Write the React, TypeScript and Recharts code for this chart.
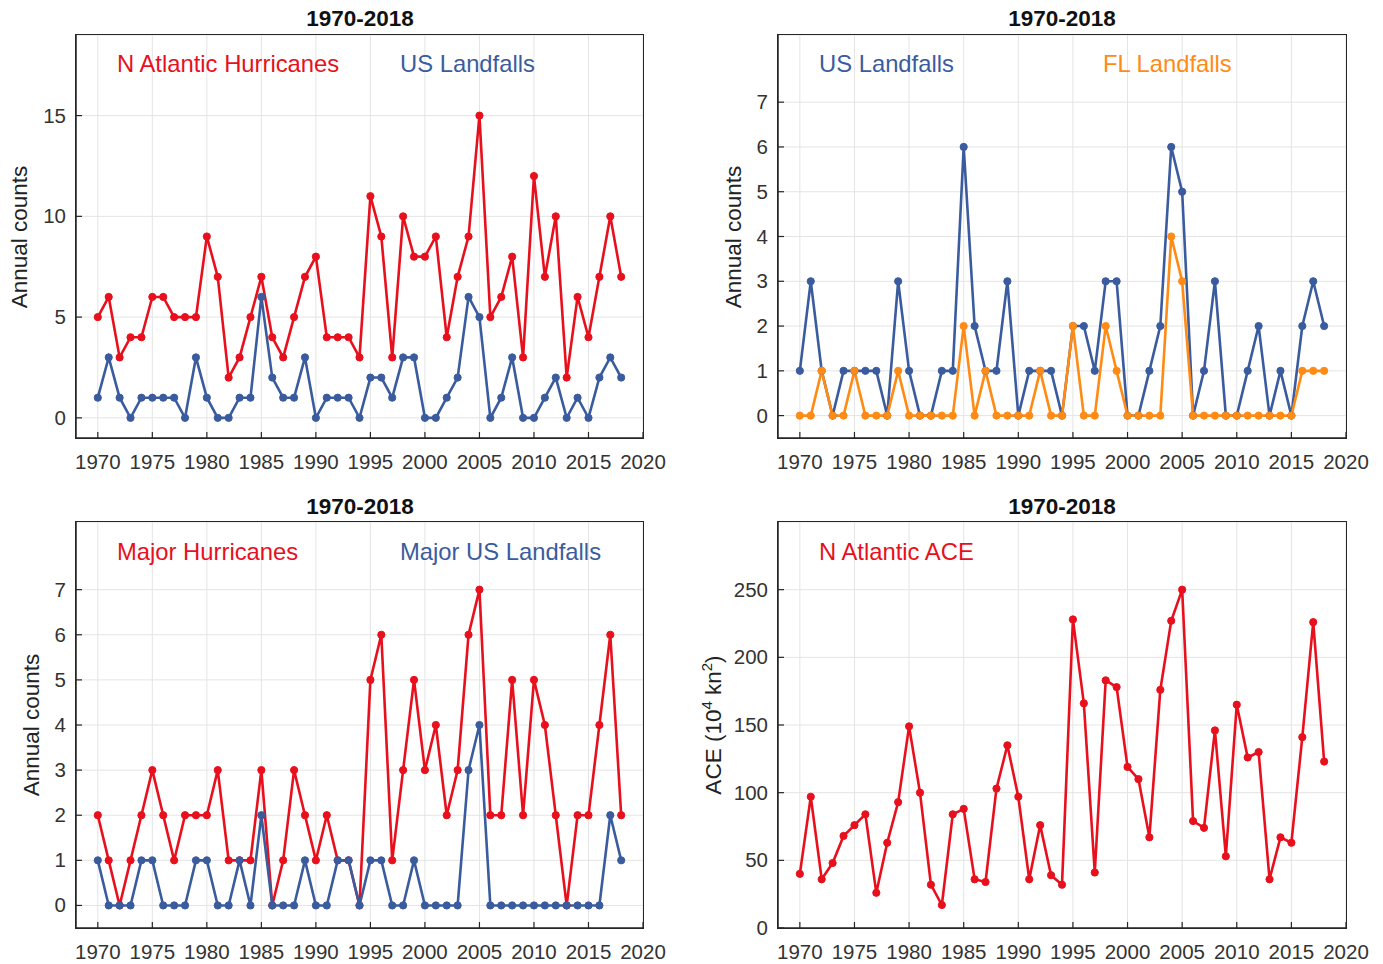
import React from "react";
import {
  LineChart,
  Line,
  XAxis,
  YAxis,
  CartesianGrid,
} from "recharts";

const FONT = "'Liberation Sans', Arial, Helvetica, sans-serif";
const RED = "#e8101c";
const BLUE = "#3a5c9e";
const ORANGE = "#ff8a14";
const AXIS = "#262626";

const years = [
  1970, 1971, 1972, 1973, 1974, 1975, 1976, 1977, 1978, 1979,
  1980, 1981, 1982, 1983, 1984, 1985, 1986, 1987, 1988, 1989,
  1990, 1991, 1992, 1993, 1994, 1995, 1996, 1997, 1998, 1999,
  2000, 2001, 2002, 2003, 2004, 2005, 2006, 2007, 2008, 2009,
  2010, 2011, 2012, 2013, 2014, 2015, 2016, 2017, 2018,
];

const hurricanes = [
  5, 6, 3, 4, 4, 6, 6, 5, 5, 5,
  9, 7, 2, 3, 5, 7, 4, 3, 5, 7,
  8, 4, 4, 4, 3, 11, 9, 3, 10, 8,
  8, 9, 4, 7, 9, 15, 5, 6, 8, 3,
  12, 7, 10, 2, 6, 4, 7, 10, 7,
];

const usLandfalls = [
  1, 3, 1, 0, 1, 1, 1, 1, 0, 3,
  1, 0, 0, 1, 1, 6, 2, 1, 1, 3,
  0, 1, 1, 1, 0, 2, 2, 1, 3, 3,
  0, 0, 1, 2, 6, 5, 0, 1, 3, 0,
  0, 1, 2, 0, 1, 0, 2, 3, 2,
];

const flLandfalls = [
  0, 0, 1, 0, 0, 1, 0, 0, 0, 1,
  0, 0, 0, 0, 0, 2, 0, 1, 0, 0,
  0, 0, 1, 0, 0, 2, 0, 0, 2, 1,
  0, 0, 0, 0, 4, 3, 0, 0, 0, 0,
  0, 0, 0, 0, 0, 0, 1, 1, 1,
];

const majorHurricanes = [
  2, 1, 0, 1, 2, 3, 2, 1, 2, 2,
  2, 3, 1, 1, 1, 3, 0, 1, 3, 2,
  1, 2, 1, 1, 0, 5, 6, 1, 3, 5,
  3, 4, 2, 3, 6, 7, 2, 2, 5, 2,
  5, 4, 2, 0, 2, 2, 4, 6, 2,
];

const majorUsLandfalls = [
  1, 0, 0, 0, 1, 1, 0, 0, 0, 1,
  1, 0, 0, 1, 0, 2, 0, 0, 0, 1,
  0, 0, 1, 1, 0, 1, 1, 0, 0, 1,
  0, 0, 0, 0, 3, 4, 0, 0, 0, 0,
  0, 0, 0, 0, 0, 0, 0, 2, 1,
];

const ace = [
  40, 97, 36, 48, 68, 76, 84, 26, 63, 93,
  149, 100, 32, 17, 84, 88, 36, 34, 103, 135,
  97, 36, 76, 39, 32, 228, 166, 41, 183, 178,
  119, 110, 67, 176, 227, 250, 79, 74, 146, 53,
  165, 126, 130, 36, 67, 63, 141, 226, 123,
];

const xTicks = [1970, 1975, 1980, 1985, 1990, 1995, 2000, 2005, 2010, 2015, 2020];
const countTicks1 = [0, 5, 10, 15];
const countTicks2 = [0, 1, 2, 3, 4, 5, 6, 7];
const aceTicks = [0, 50, 100, 150, 200, 250];

const rows = years.map((year, i) => ({
  year,
  hurricanes: hurricanes[i],
  usLandfalls: usLandfalls[i],
  flLandfalls: flLandfalls[i],
  majorHurricanes: majorHurricanes[i],
  majorUsLandfalls: majorUsLandfalls[i],
  ace: ace[i],
}));

const TICK_FONT = 20.5;

const YTick = (props: any) => {
  const { x, y, payload } = props;
  return (
    <g>
      <line x1={x + 10} x2={x + 16} y1={y} y2={y} stroke={AXIS} strokeWidth={1.2} />
      <text
        x={x}
        y={y}
        dy={7}
        textAnchor="end"
        fontSize={TICK_FONT}
        fontFamily={FONT}
        fill="#333"
      >
        {payload.value}
      </text>
    </g>
  );
};

const XTick = (props: any) => {
  const { x, y, payload } = props;
  return (
    <g>
      <line x1={x} x2={x} y1={y - 14} y2={y - 20} stroke={AXIS} strokeWidth={1.2} />
      <text
        x={x}
        y={y}
        dy={17}
        textAnchor="middle"
        fontSize={TICK_FONT}
        fontFamily={FONT}
        fill="#333"
      >
        {payload.value}
      </text>
    </g>
  );
};

type SeriesDef = { key: string; color: string };

type PanelProps = {
  left: number;
  top: number;
  width: number;
  height: number;
  yWidth: number;
  xHeight: number;
  rightPad: number;
  domain: [number, number];
  yTicks: number[];
  series: SeriesDef[];
};

const Panel = ({ left, top, width, height, yWidth, xHeight, rightPad, domain, yTicks, series }: PanelProps) => {
  const plotW = width - yWidth - rightPad;
  const plotH = height - 35 - xHeight;
  return (
    <div style={{ position: "absolute", left, top, width, height }}>
      <LineChart
        width={width}
        height={height}
        data={rows}
        margin={{ top: 35, right: rightPad, bottom: 0, left: 0 }}
      >
        <CartesianGrid stroke="#e4e4e4" strokeWidth={1} />
        <XAxis
          dataKey="year"
          type="number"
          domain={[1968, 2020]}
          ticks={xTicks}
          allowDataOverflow
          height={xHeight}
          tickSize={0}
          tickMargin={14}
          tickLine={false}
          tick={<XTick />}
          axisLine={{ stroke: AXIS, strokeWidth: 1.5 }}
        />
        <YAxis
          type="number"
          domain={domain}
          ticks={yTicks}
          allowDataOverflow
          width={yWidth}
          tickSize={0}
          tickMargin={10}
          tickLine={false}
          tick={<YTick />}
          axisLine={{ stroke: AXIS, strokeWidth: 1.5 }}
        />
        {series.map((s) => (
          <Line
            key={s.key}
            dataKey={s.key}
            stroke={s.color}
            strokeWidth={2.6}
            dot={{ r: 3.6, fill: s.color, stroke: s.color, strokeWidth: 1 }}
            isAnimationActive={false}
          />
        ))}
      </LineChart>
      {/* plot box */}
      <div
        style={{
          position: "absolute",
          left: yWidth - 0.75,
          top: 35 - 0.75,
          width: plotW + 1.5,
          height: plotH + 1.5,
          border: `1.5px solid ${AXIS}`,
          boxSizing: "border-box",
          pointerEvents: "none",
        }}
      />
    </div>
  );
};

const textBase: React.CSSProperties = {
  position: "absolute",
  fontFamily: FONT,
  whiteSpace: "nowrap",
  lineHeight: 1,
};

const Title = ({ cx, cy }: { cx: number; cy: number }) => (
  <div
    style={{
      ...textBase,
      left: cx,
      top: cy,
      transform: "translate(-50%, -50%)",
      fontSize: 22.5,
      fontWeight: "bold",
      color: "#111",
    }}
  >
    1970-2018
  </div>
);

const Tag = ({ x, cy, color, text }: { x: number; cy: number; color: string; text: string }) => (
  <div
    style={{
      ...textBase,
      left: x,
      top: cy,
      transform: "translateY(-50%)",
      fontSize: 23.8,
      color,
    }}
  >
    {text}
  </div>
);

const YLabel = ({ cx, cy, children }: { cx: number; cy: number; children: React.ReactNode }) => (
  <div
    style={{
      ...textBase,
      left: cx,
      top: cy,
      transform: "translate(-50%, -50%) rotate(-90deg)",
      fontSize: 22.5,
      color: "#222",
    }}
  >
    {children}
  </div>
);

export default function App() {
  return (
    <div
      style={{
        position: "absolute",
        left: 0,
        top: 0,
        width: 1383,
        height: 964,
        background: "#fff",
        overflow: "hidden",
      }}
    >
      <Panel
        left={0}
        top={0}
        width={680}
        height={480}
        yWidth={76}
        xHeight={42}
        rightPad={37}
        domain={[-1, 19]}
        yTicks={countTicks1}
        series={[
          { key: "hurricanes", color: RED },
          { key: "usLandfalls", color: BLUE },
        ]}
      />
      <Panel
        left={700}
        top={0}
        width={683}
        height={480}
        yWidth={78}
        xHeight={42}
        rightPad={37}
        domain={[-0.5, 8.5]}
        yTicks={countTicks2}
        series={[
          { key: "usLandfalls", color: BLUE },
          { key: "flLandfalls", color: ORANGE },
        ]}
      />
      <Panel
        left={0}
        top={487}
        width={680}
        height={477}
        yWidth={76}
        xHeight={36}
        rightPad={37}
        domain={[-0.5, 8.5]}
        yTicks={countTicks2}
        series={[
          { key: "majorHurricanes", color: RED },
          { key: "majorUsLandfalls", color: BLUE },
        ]}
      />
      <Panel
        left={700}
        top={487}
        width={683}
        height={477}
        yWidth={78}
        xHeight={36}
        rightPad={37}
        domain={[0, 300]}
        yTicks={aceTicks}
        series={[{ key: "ace", color: RED }]}
      />

      <Title cx={360} cy={19} />
      <Title cx={1062} cy={19} />
      <Title cx={360} cy={507} />
      <Title cx={1062} cy={507} />

      <Tag x={117} cy={64} color={RED} text="N Atlantic Hurricanes" />
      <Tag x={400} cy={64} color={BLUE} text="US Landfalls" />
      <Tag x={819} cy={64} color={BLUE} text="US Landfalls" />
      <Tag x={1103} cy={64} color={ORANGE} text="FL Landfalls" />
      <Tag x={117} cy={552} color={RED} text="Major Hurricanes" />
      <Tag x={400} cy={552} color={BLUE} text="Major US Landfalls" />
      <Tag x={819} cy={552} color={RED} text="N Atlantic ACE" />

      <YLabel cx={20} cy={237}>Annual counts</YLabel>
      <YLabel cx={734} cy={237}>Annual counts</YLabel>
      <YLabel cx={32} cy={725}>Annual counts</YLabel>
      <YLabel cx={712} cy={725}>
        ACE (10<sup style={{ fontSize: 15 }}>4</sup> kn<sup style={{ fontSize: 15 }}>2</sup>)
      </YLabel>
    </div>
  );
}
